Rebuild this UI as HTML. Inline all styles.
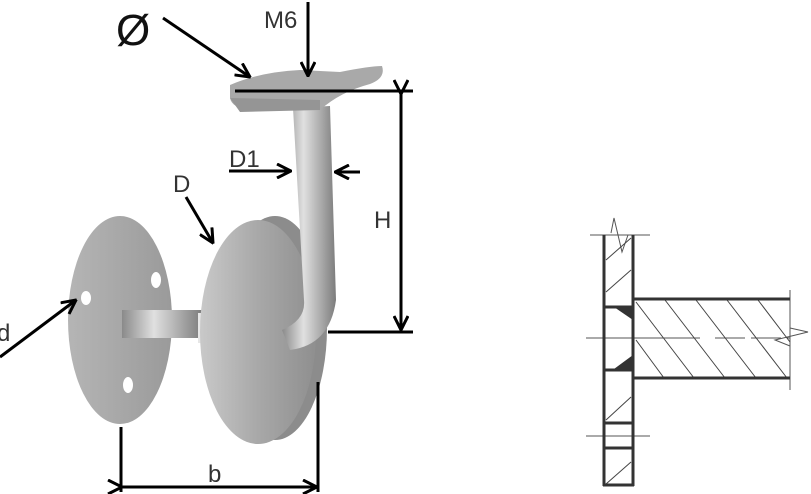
<!DOCTYPE html>
<html><head><style>
body{margin:0;background:#fff;}
svg{display:block;font-family:"Liberation Sans",sans-serif;}
</style></head><body>
<svg width="811" height="494" viewBox="0 0 811 494">
<defs>
<linearGradient id="g1" x1="0" x2="1"><stop offset="0" stop-color="#c9c9c9"/><stop offset="0.5" stop-color="#a8a8a8"/><stop offset="1" stop-color="#8f8f8f"/></linearGradient>
<linearGradient id="g2" x1="0" x2="1"><stop offset="0" stop-color="#b5b5b5"/><stop offset="1" stop-color="#9a9a9a"/></linearGradient>
<linearGradient id="rod" x1="0" x2="1"><stop offset="0" stop-color="#8a8a8a"/><stop offset="0.4" stop-color="#e0e0e0"/><stop offset="1" stop-color="#7c7c7c"/></linearGradient>
<marker id="ah" viewBox="0 0 16 16" refX="15" refY="8" markerWidth="16" markerHeight="16" markerUnits="userSpaceOnUse" orient="auto"><path d="M1,1 L15,8 L1,15" fill="none" stroke="#000" stroke-width="3"/></marker>
</defs>
<ellipse cx="120" cy="320" rx="52" ry="104" fill="url(#g2)"/>
<ellipse cx="156" cy="280" rx="5" ry="8" fill="#fff"/>
<ellipse cx="86" cy="298" rx="5" ry="7" fill="#fff"/>
<ellipse cx="128" cy="385" rx="5" ry="8" fill="#fff"/>
<rect x="122" y="310" width="80" height="28" fill="url(#rod)"/>
<rect x="198" y="313" width="30" height="30" fill="#e6e6e6"/>
<ellipse cx="275" cy="328" rx="52" ry="112" fill="#8c8c8c"/>
<ellipse cx="258" cy="332" rx="58" ry="112" fill="url(#g1)"/>
<path d="M293,108 L330,106 L336,300 Q330,345 290,350 L282,330 Q306,320 304,300 Z" fill="url(#rod)"/>
<path d="M230,85 Q260,72 300,70 L340,72 Q370,66 382,66 Q386,78 370,84 Q340,92 320,110 L250,110 Q232,108 230,98 Z" fill="#a9a9a9"/>
<path d="M230,98 L320,100 L320,110 L240,112 Z" fill="#959595"/>
<g stroke="#000" stroke-width="3" fill="none">
<line x1="235" y1="91" x2="413" y2="91"/>
<line x1="328" y1="332" x2="413" y2="332"/>
<line x1="401" y1="94" x2="401" y2="330" marker-start="url(#ah)" marker-end="url(#ah)"/>
<line x1="121" y1="427" x2="121" y2="492"/>
<line x1="318" y1="382" x2="318" y2="492"/>
<line x1="122" y1="487" x2="317" y2="487" marker-start="url(#ah)" marker-end="url(#ah)"/>
<line x1="163" y1="18" x2="250" y2="77" marker-end="url(#ah)"/>
<line x1="308" y1="2" x2="308" y2="76" marker-end="url(#ah)"/>
<line x1="229" y1="171" x2="291" y2="171" marker-end="url(#ah)"/>
<line x1="360" y1="172" x2="335" y2="172" marker-end="url(#ah)"/>
<line x1="186" y1="197" x2="213" y2="243" marker-end="url(#ah)"/>
<line x1="0" y1="357" x2="76" y2="300" marker-end="url(#ah)"/>
</g>
<g font-size="24" fill="#333">
<text x="264" y="28">M6</text>
<text x="229" y="167">D1</text>
<text x="173" y="192">D</text>
<text x="374" y="228">H</text>
<text x="208" y="482">b</text>
<text x="-3" y="341">d</text>
</g>
<text x="116" y="45" font-size="44" fill="#111">Ø</text>
<g fill="none" stroke="#555" stroke-width="1">
<line x1="590" y1="235" x2="650" y2="235"/>
<line x1="586" y1="338" x2="700" y2="338"/>
<line x1="715" y1="338" x2="790" y2="338" stroke-dasharray="30,6"/>
<line x1="586" y1="436" x2="650" y2="436"/>
<line x1="790" y1="290" x2="790" y2="390"/>
<path d="M611,233 L614,218 L622,252 L628,235" />
<path d="M790,328 L808,332 L775,340 L790,346"/>
<g stroke="#444">
<line x1="606" y1="260" x2="631" y2="238"/>
<line x1="606" y1="292" x2="631" y2="270"/>
<line x1="606" y1="420" x2="631" y2="397"/>
<line x1="606" y1="484" x2="631" y2="462"/>
<line x1="636" y1="302" x2="694" y2="378"/>
<line x1="665" y1="300" x2="725" y2="378"/>
<line x1="696" y1="300" x2="756" y2="378"/>
<line x1="727" y1="300" x2="787" y2="378"/>
<line x1="758" y1="300" x2="790" y2="342"/>
<line x1="636" y1="340" x2="664" y2="378"/>
</g>
</g>
<g stroke="#333" stroke-width="3" fill="none">
<line x1="604" y1="235" x2="604" y2="486"/>
<line x1="633" y1="235" x2="633" y2="486"/>
<line x1="603" y1="485" x2="634" y2="485"/>
<line x1="633" y1="299" x2="790" y2="299"/>
<line x1="633" y1="378" x2="790" y2="378"/>
<line x1="604" y1="307" x2="633" y2="307"/>
<line x1="604" y1="370" x2="633" y2="370"/>
<line x1="604" y1="423" x2="633" y2="423"/>
<line x1="604" y1="448" x2="633" y2="448"/>
</g>
<path d="M614,307 L633,307 L633,320 Z" fill="#333"/>
<path d="M614,369 L633,369 L633,355 Z" fill="#333"/>
</svg>
</body></html>
